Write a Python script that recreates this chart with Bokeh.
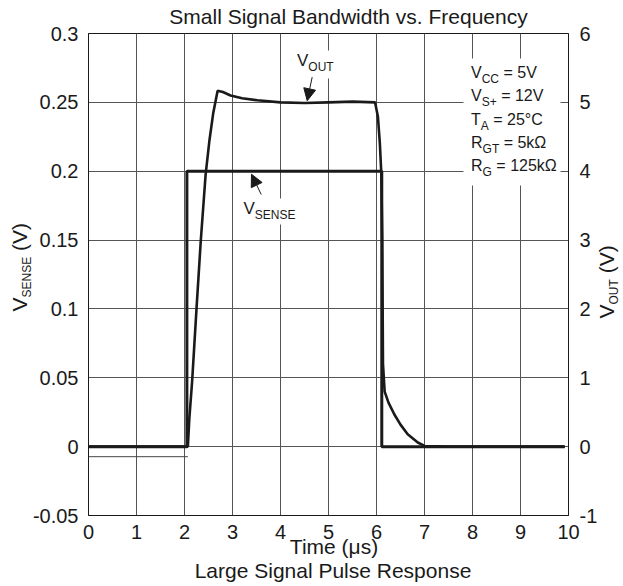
import math
from bokeh.plotting import figure
from bokeh.models import (Range1d, LinearAxis, Label, Arrow, NormalHead,
                          BoxAnnotation, FixedTicker)
from bokeh.embed import file_html
from bokeh.resources import INLINE

# ---------------- data ----------------
x_ticks = [0, 1, 2, 3, 4, 5, 6, 7, 8, 9, 10]
y_ticks = [-0.05, 0, 0.05, 0.1, 0.15, 0.2, 0.25, 0.3]
y_tick_labels = ["-0.05", "0", "0.05", "0.1", "0.15", "0.2", "0.25", "0.3"]
y2_ticks = [-1, 0, 1, 2, 3, 4, 5, 6]
y2_tick_labels = ["-1", "0", "1", "2", "3", "4", "5", "6"]

t_sense = [0.0, 2.05, 2.05, 6.11, 6.11, 9.92]
v_sense = [0.0, 0.0, 0.2, 0.2, 0.0, 0.0]

t_out = [0.0, 2.07, 2.1, 2.16, 2.25, 2.34, 2.44, 2.52, 2.6, 2.69, 2.8, 2.96,
         3.2, 3.52, 4.0, 4.5, 5.0, 5.5, 5.97, 6.03, 6.07, 6.1, 6.12, 6.135,
         6.17, 6.25, 6.37, 6.5, 6.65, 6.86, 7.0, 7.5, 8.0, 9.0, 9.92]
v_out = [0.0, 0.0, 0.4, 0.96, 2.0, 3.0, 3.95, 4.45, 4.85, 5.17, 5.15, 5.10,
         5.06, 5.03, 5.0, 4.99, 5.0, 5.01, 5.0, 4.79, 4.4, 3.97, 3.0, 1.2,
         0.8, 0.64, 0.47, 0.32, 0.18, 0.06, 0.01, 0.0, 0.0, 0.0, 0.0]

t_ref = [0.0, 2.07]
v_ref = [-0.0073, -0.0073]

title_text = "Small Signal Bandwidth vs. Frequency"
xlabel_text = "Time (\u03bcs)"
caption_text = "Large Signal Pulse Response"

# ---------------- style ----------------
FONT = "Liberation Sans"
INK = "#1a1a1a"
GRID = "#555555"
BASE_SHIFT = 0.33   # em correction so that the given y is the text baseline

W, H = 623, 586
FL, FR, FT, FB = 88, 568, 33, 515   # frame edges in page pixels

p = figure(width=W, height=H, output_backend="svg", toolbar_location=None,
           x_range=Range1d(0, 10), y_range=Range1d(-0.05, 0.3),
           min_border_left=FL, min_border_right=W - FR,
           min_border_top=FT, min_border_bottom=H - FB)
p.title.visible = False
p.extra_y_ranges = {"vout": Range1d(-1, 6)}
p.outline_line_color = INK
p.outline_line_width = 1
p.background_fill_color = "white"
p.border_fill_color = "white"

p.xaxis.ticker = FixedTicker(ticks=x_ticks)
p.yaxis.ticker = FixedTicker(ticks=y_ticks)
p.yaxis.major_label_overrides = {v: s for v, s in zip(y_ticks, y_tick_labels)}
p.xgrid.ticker = FixedTicker(ticks=x_ticks)
p.ygrid.ticker = FixedTicker(ticks=y_ticks)
for g in (p.xgrid, p.ygrid):
    g.grid_line_color = GRID
    g.grid_line_width = 1

ax2 = LinearAxis(y_range_name="vout", ticker=FixedTicker(ticks=y2_ticks))
ax2.major_label_overrides = {v: s for v, s in zip(y2_ticks, y2_tick_labels)}
p.add_layout(ax2, "right")

for ax in (p.xaxis[0], p.yaxis[0], ax2):
    ax.axis_line_color = INK
    ax.major_tick_line_color = None
    ax.minor_tick_line_color = None
    ax.major_label_text_font = FONT
    ax.major_label_text_font_size = "20px"
    ax.major_label_text_color = INK
    ax.axis_label = None
p.xaxis.major_label_standoff = 3
p.yaxis[0].major_label_standoff = 4
ax2.major_label_standoff = 5


def sx(px):
    return px - FL


def sy(py):
    return FB - py


# white patches behind in-plot texts (they break the grid lines)
for (l, r, t, b) in [(463, 560, 58, 185), (293, 337, 50, 78), (241, 299, 198, 224)]:
    p.add_layout(BoxAnnotation(left=sx(l), right=sx(r), top=sy(t), bottom=sy(b),
                               left_units="screen", right_units="screen",
                               top_units="screen", bottom_units="screen",
                               fill_color="white", fill_alpha=1.0,
                               line_color=None))

# ---------------- traces ----------------
p.line(t_ref, v_ref, line_color="#444444", line_width=1)
p.line(t_out, v_out, y_range_name="vout", line_color=INK, line_width=2.6)
p.line(t_sense, v_sense, line_color=INK, line_width=3)

# ---------------- overlay figure (own root) for texts outside the frame ----------------
txt = figure(width=W, height=H, output_backend="svg", toolbar_location=None,
             x_range=Range1d(0, 1), y_range=Range1d(0, 1),
             x_axis_type=None, y_axis_type=None,
             min_border=0, min_border_left=0, min_border_right=0,
             min_border_top=0, min_border_bottom=0,
             styles={"position": "absolute", "top": "0px", "left": "0px"})
txt.title.visible = False
txt.outline_line_color = None
txt.background_fill_alpha = 0
txt.border_fill_alpha = 0

# ---------------- text helpers ----------------
CW = {" ": 278, "(": 333, ")": 333, "+": 584, "=": 584, ".": 278, "-": 333,
      "\u00b0": 400, "\u03a9": 768, "\u03bc": 576,
      "A": 667, "B": 667, "C": 722, "E": 667, "F": 611, "G": 778, "L": 556,
      "N": 722, "O": 778, "P": 667, "R": 722, "S": 667, "T": 611, "U": 722,
      "V": 667, "k": 500}
for d in "0123456789":
    CW[d] = 556


def tw(s, size):
    return sum(CW.get(c, 556) for c in s) * size / 1000.0


def to_screen(fig, px, py):
    if fig is p:
        return sx(px), sy(py)
    return px, H - py


def place(fig, segs, px, py, rotated=False):
    for text, size, dy in segs:
        lead = len(text) - len(text.lstrip(" "))
        if lead:
            adv = tw(" " * lead, size)
            if rotated:
                py -= adv
            else:
                px += adv
            text = text.lstrip(" ")
        shift = BASE_SHIFT * size
        if rotated:
            x, y = to_screen(fig, px + dy - shift, py)
            lab = Label(x=x, y=y, angle=math.pi / 2)
        else:
            x, y = to_screen(fig, px, py + dy - shift)
            lab = Label(x=x, y=y)
        lab.update(x_units="screen", y_units="screen", text=text,
                   text_font=FONT, text_font_size=f"{size}px",
                   text_color=INK, text_align="left",
                   text_baseline="alphabetic")
        fig.add_layout(lab)
        if rotated:
            py -= tw(text, size)
        else:
            px += tw(text, size)


def centered(fig, text, cx, py, size):
    x, y = to_screen(fig, cx, py - BASE_SHIFT * size)
    fig.add_layout(Label(x=x, y=y, x_units="screen", y_units="screen",
                         text=text, text_font=FONT, text_font_size=f"{size}px",
                         text_color=INK, text_align="center",
                         text_baseline="alphabetic"))


# title and x labels
centered(txt, title_text, 348, 23, 21)
centered(txt, xlabel_text, 333.5, 553, 21)
centered(txt, caption_text, 332.5, 577, 21)

# axis labels (rotated, reading upwards)
place(txt, [("V", 21, 0), ("SENSE", 12, 4), (" (V)", 21, 0)], 26, 311, rotated=True)
place(txt, [("V", 21, 0), ("OUT", 12, 4), (" (V)", 21, 0)], 613, 318, rotated=True)

# curve labels
place(p, [("V", 17, 0), ("OUT", 12, 4.5)], 296.5, 65.5)
place(p, [("V", 17, 0), ("SENSE", 12, 4.5)], 243, 213.5)

# test conditions
cond = [[("V", 16, 0), ("CC", 12, 5), (" = 5V", 16, 0)],
        [("V", 16, 0), ("S+", 12, 5), (" = 12V", 16, 0)],
        [("T", 16, 0), ("A", 12, 5), (" = 25\u00b0C", 16, 0)],
        [("R", 16, 0), ("GT", 12, 5), (" = 5k\u03a9", 16, 0)],
        [("R", 16, 0), ("G", 12, 5), (" = 125k\u03a9", 16, 0)]]
for i, segs in enumerate(cond):
    place(p, segs, 470.5, 77.3 + 23.35 * i)

# arrows
for (x0, y0, x1, y1) in [(4.66, 0.2683, 4.556, 0.2512), (3.598, 0.1831, 3.396, 0.1978)]:
    p.add_layout(Arrow(x_start=x0, y_start=y0, x_end=x1, y_end=y1,
                       line_color=INK, line_width=1,
                       end=NormalHead(size=12, fill_color=INK, line_color=INK,
                                      line_width=1)))

open("out.html", "w").write(file_html([p, txt], INLINE))
